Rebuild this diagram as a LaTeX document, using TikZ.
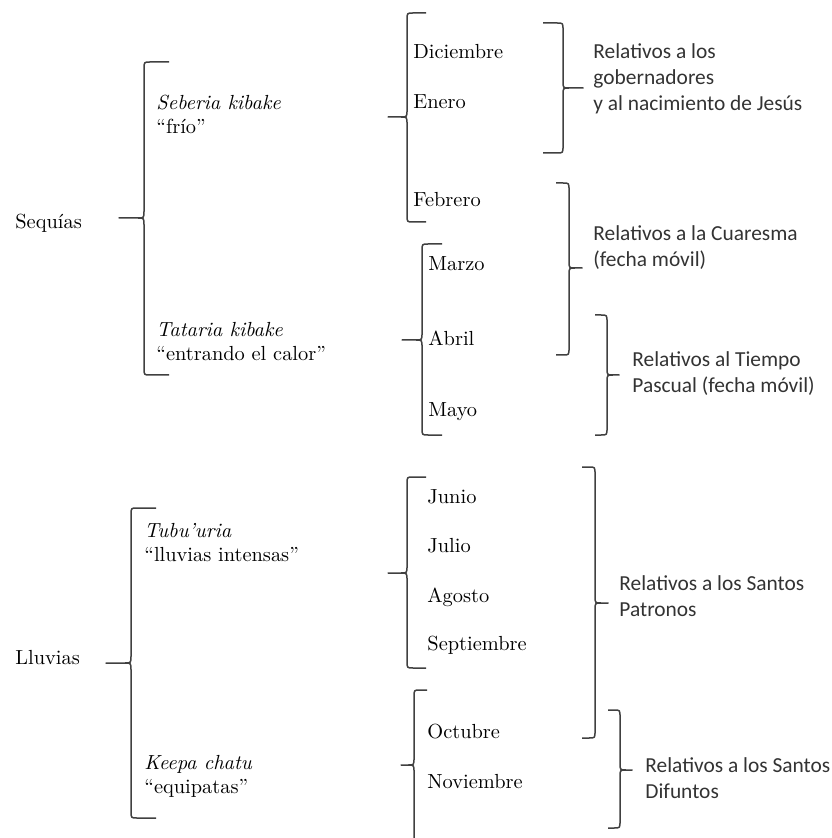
\documentclass[tikz,border=0pt]{standalone}
\usepackage{fontspec}
\newfontfamily\calfont{Carlito}
\tikzset{
  brk/.style={black!75, line width=0.75pt, line join=round},
  lbl/.style={anchor=west, inner sep=0pt, align=left, text=black,
    font=\fontsize{10.2}{12}\selectfont},
  rel/.style={anchor=west, inner sep=0pt, align=left, text=black!80,
    font=\calfont\fontsize{10.7}{13}\selectfont}
}
% left brace: x, top, tip, bottom, arm length
\newcommand{\leftbrk}[5]{%
  \draw[brk] (#1+#5,#2) -- (#1+6,#2) .. controls (#1,#2) .. (#1,#2+7)
    -- (#1,#3-7) .. controls (#1,#3) .. (#1-6,#3) -- (#1-#5,#3)
    -- (#1-6,#3) .. controls (#1,#3) .. (#1,#3+7)
    -- (#1,#4-7) .. controls (#1,#4) .. (#1+6,#4) -- (#1+#5,#4);}
% right brace: x, top, tip, bottom, arm length
\newcommand{\rightbrk}[5]{%
  \draw[brk] (#1-#5,#2) -- (#1-6,#2) .. controls (#1,#2) .. (#1,#2+7)
    -- (#1,#3-7) .. controls (#1,#3) .. (#1+6,#3) -- (#1+#5,#3)
    -- (#1+6,#3) .. controls (#1,#3) .. (#1,#3+7)
    -- (#1,#4-7) .. controls (#1,#4) .. (#1-6,#4) -- (#1-#5,#4);}
\begin{document}
\begin{tikzpicture}[x=0.5pt, y=-0.5pt]
\useasboundingbox (0,0) rectangle (831,838);
\clip (0,0) rectangle (831,838);
% Sequias
\node[lbl] (sequias) at (15,223) {Sequías};
\leftbrk{144}{62}{218}{375}{25}
\node[lbl] (seberia) at (156,114) {\itshape Seberia kibake\\“frío”};
\node[lbl] (tataria) at (156,342) {\itshape Tataria kibake\\“entrando el calor”};
% months, dry season
\leftbrk{407}{13}{117}{222}{19}
\node[lbl] (dic) at (413,52) {Diciembre};
\node[lbl] (ene) at (413,102) {Enero};
\node[lbl] (feb) at (413,200) {Febrero};
\leftbrk{422}{244}{340}{435}{20}
\node[lbl] (mar) at (428,264) {Marzo};
\node[lbl] (abr) at (428,338) {Abril};
\node[lbl] (may) at (428,412) {Mayo};
% feasts, dry season
\rightbrk{563}{23}{88}{153}{20}
\node[rel] (gob) at (593,79) {Relativos a los\\gobernadores\\y al nacimiento de Jesús};
\rightbrk{569}{183}{268}{355}{13}
\node[rel] (cuar) at (593,248) {Relativos a la Cuaresma\\(fecha móvil)};
\rightbrk{607}{315}{375}{435}{12}
\node[rel] (pasc) at (632,374) {Relativos al Tiempo\\Pascual (fecha móvil)};
% Lluvias
\node[lbl] (lluvias) at (15,658) {Lluvias};
\leftbrk{131}{508}{663}{818}{25}
\node[lbl] (tubu) at (144,543) {\itshape Tubu’uria\\“lluvias intensas”};
\node[lbl] (keepa) at (144,776) {\itshape Keepa chatu\\“equipatas”};
% months, rainy season
\leftbrk{407}{477}{573}{668}{19}
\node[lbl] (jun) at (427,497) {Junio};
\node[lbl] (jul) at (427,546) {Julio};
\node[lbl] (ago) at (427,597) {Agosto};
\node[lbl] (sep) at (427,645) {Septiembre};
\leftbrk{414}{690}{765}{850}{13}
\node[lbl] (oct) at (427,732) {Octubre};
\node[lbl] (nov) at (427,782) {Noviembre};
% feasts, rainy season
\rightbrk{595}{467}{603}{738}{13}
\node[rel] (patr) at (619,596) {Relativos a los Santos\\Patronos};
\rightbrk{620}{710}{770}{828}{12}
\node[rel] (dif) at (645,778) {Relativos a los Santos\\Difuntos};
\end{tikzpicture}
\end{document}
